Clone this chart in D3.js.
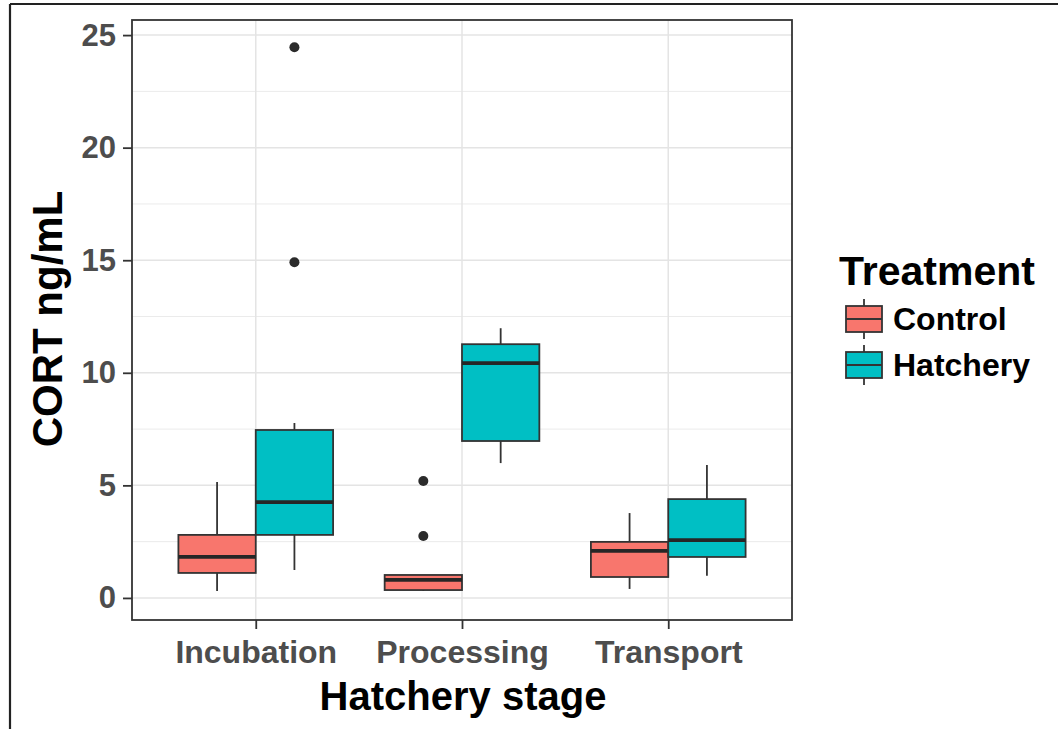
<!DOCTYPE html>
<html>
<head>
<meta charset="utf-8">
<script src="https://cdn.jsdelivr.net/npm/d3@7"></script>
<style>
  html, body { margin: 0; padding: 0; background: #fff; }
  svg { display: block; font-family: "Liberation Sans", Arial, sans-serif; }
</style>
</head>
<body>
<svg id="chart" width="1058" height="729"></svg>
<script>
// ---- data ----
const stages = ["Incubation", "Processing", "Transport"];
const treatments = ["Control", "Hatchery"];
const colors = ["#F8766D", "#00BFC4"];
const yTicks = [0, 5, 10, 15, 20, 25];
// per stage, [Control, Hatchery]
const whiskerLow  = [[0.31, 1.24], [0.31, 5.99], [0.40, 0.98]];
const q1          = [[1.11, 2.80], [0.35, 6.97], [0.93, 1.82]];
const median      = [[1.82, 4.26], [0.80, 10.43], [2.09, 2.57]];
const q3          = [[2.80, 7.46], [1.02, 11.27], [2.49, 4.39]];
const whiskerHigh = [[5.15, 7.77], [1.02, 11.98], [3.77, 5.90]];
const outliers    = [[[], [14.91, 24.46]], [[2.75, 5.19], []], [[], []]];

const yLabel = "CORT ng/mL";
const xLabel = "Hatchery stage";
const legendTitle = "Treatment";

// ---- layout ----
const svg = d3.select("#chart");
const P = { left: 132, right: 792, top: 20, bottom: 620 };

const x = d3.scalePoint().domain(stages).range([P.left, P.right]).padding(0.6);
const step = x.step();
const xi = d3.scaleBand().domain(treatments).range([-0.375 * step, 0.375 * step]);
const y = d3.scaleLinear().domain([-0.98, 25.67]).range([P.bottom, P.top]);

// outer frame (screenshot border)
svg.append("line").attr("x1", 10).attr("x2", 1058).attr("y1", 4).attr("y2", 4)
  .attr("stroke", "#222").attr("stroke-width", 2.2);
svg.append("line").attr("x1", 10).attr("x2", 10).attr("y1", 4).attr("y2", 729)
  .attr("stroke", "#222").attr("stroke-width", 2.2);

// gridlines
const minorTicks = d3.range(2.5, 25, 5);
const grid = svg.append("g");
grid.selectAll(".minor").data(minorTicks).join("line")
  .attr("x1", P.left).attr("x2", P.right)
  .attr("y1", d => y(d)).attr("y2", d => y(d))
  .attr("stroke", "#EBEBEB").attr("stroke-width", 1);
grid.selectAll(".major").data(yTicks).join("line")
  .attr("x1", P.left).attr("x2", P.right)
  .attr("y1", d => y(d)).attr("y2", d => y(d))
  .attr("stroke", "#E4E4E4").attr("stroke-width", 1.5);
grid.selectAll(".vmajor").data(stages).join("line")
  .attr("x1", d => x(d)).attr("x2", d => x(d))
  .attr("y1", P.top).attr("y2", P.bottom)
  .attr("stroke", "#E4E4E4").attr("stroke-width", 1.5);

// boxes
const rows = [];
stages.forEach((s, i) => treatments.forEach((t, j) => rows.push({
  s, t, j,
  lo: whiskerLow[i][j], q1: q1[i][j], med: median[i][j], q3: q3[i][j], hi: whiskerHigh[i][j],
  out: outliers[i][j]
})));

const bw = xi.bandwidth();
const g = svg.append("g");
rows.forEach(r => {
  const cx = x(r.s) + xi(r.t) + bw / 2;
  const x0 = x(r.s) + xi(r.t);
  g.append("line").attr("x1", cx).attr("x2", cx).attr("y1", y(r.hi)).attr("y2", y(r.q3))
    .attr("stroke", "#333").attr("stroke-width", 1.8);
  g.append("line").attr("x1", cx).attr("x2", cx).attr("y1", y(r.q1)).attr("y2", y(r.lo))
    .attr("stroke", "#333").attr("stroke-width", 1.8);
  g.append("rect").attr("x", x0).attr("width", bw)
    .attr("y", y(r.q3)).attr("height", y(r.q1) - y(r.q3))
    .attr("fill", colors[r.j]).attr("stroke", "#333").attr("stroke-width", 1.8);
  g.append("line").attr("x1", x0).attr("x2", x0 + bw).attr("y1", y(r.med)).attr("y2", y(r.med))
    .attr("stroke", "#262626").attr("stroke-width", 3.8);
  g.selectAll(null).data(r.out).join("circle")
    .attr("cx", cx).attr("cy", d => y(d)).attr("r", 5).attr("fill", "#2b2b2b");
});

// panel border
svg.append("rect").attr("x", P.left).attr("y", P.top)
  .attr("width", P.right - P.left).attr("height", P.bottom - P.top)
  .attr("fill", "none").attr("stroke", "#333").attr("stroke-width", 1.8);

// y axis
const yAxis = svg.append("g").attr("transform", `translate(${P.left},0)`)
  .call(d3.axisLeft(y).tickValues(yTicks).tickSize(9).tickPadding(7));
yAxis.select(".domain").remove();
yAxis.selectAll(".tick line").attr("stroke", "#333").attr("stroke-width", 1.8);
yAxis.selectAll(".tick text").attr("fill", "#4D4D4D")
  .attr("font-size", 31).attr("font-weight", "bold")
  .attr("font-family", "Liberation Sans, Arial, sans-serif");

// x axis
const xAxis = svg.append("g").attr("transform", `translate(0,${P.bottom})`)
  .call(d3.axisBottom(x).tickSize(9).tickPadding(11));
xAxis.select(".domain").remove();
xAxis.selectAll(".tick line").attr("stroke", "#333").attr("stroke-width", 1.8);
xAxis.selectAll(".tick text").attr("fill", "#4D4D4D")
  .attr("font-size", 32).attr("font-weight", "bold")
  .attr("font-family", "Liberation Sans, Arial, sans-serif");

// axis titles
svg.append("text").attr("x", (P.left + P.right) / 2 + 1).attr("y", 710)
  .attr("text-anchor", "middle").attr("font-size", 40).attr("font-weight", "bold")
  .attr("fill", "#000").text(xLabel);
svg.append("text").attr("transform", `translate(62,${(P.top + P.bottom) / 2 - 1}) rotate(-90)`)
  .attr("text-anchor", "middle").attr("font-size", 42).attr("font-weight", "bold")
  .attr("fill", "#000").text(yLabel);

// legend
const lg = svg.append("g");
lg.append("text").attr("x", 839).attr("y", 285).attr("font-size", 41)
  .attr("font-weight", "bold").attr("fill", "#000").text(legendTitle);
treatments.forEach((t, j) => {
  const cy = 319 + j * 46;
  const kx = 846, kw = 36;
  lg.append("line").attr("x1", kx + kw / 2).attr("x2", kx + kw / 2)
    .attr("y1", cy - 20).attr("y2", cy + 20).attr("stroke", "#333").attr("stroke-width", 1.8);
  lg.append("rect").attr("x", kx).attr("y", cy - 13).attr("width", kw).attr("height", 26)
    .attr("fill", colors[j]).attr("stroke", "#333").attr("stroke-width", 1.8);
  lg.append("line").attr("x1", kx).attr("x2", kx + kw).attr("y1", cy).attr("y2", cy)
    .attr("stroke", "#333").attr("stroke-width", 1.8);
  lg.append("text").attr("x", 893).attr("y", cy + 11).attr("font-size", 32)
    .attr("font-weight", "bold").attr("fill", "#000").text(t);
});
</script>
</body>
</html>
